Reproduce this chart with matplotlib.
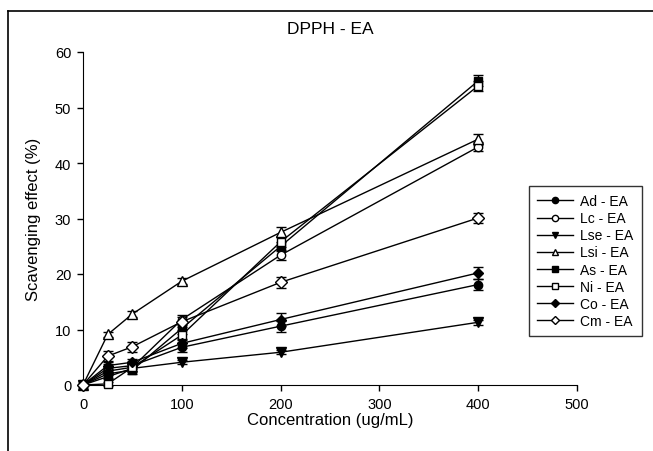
import matplotlib
matplotlib.use("Agg")
import matplotlib.pyplot as plt
from matplotlib.lines import Line2D

plt.rcParams['font.family'] = ['Liberation Sans', 'DejaVu Sans']

conc = [0, 25, 50, 100, 200, 400]

ad = [0, 3.0, 3.5, 6.8, 10.6, 18.1]
lc = [0, 2.5, 3.2, 11.8, 23.4, 42.9]
lse = [0, 1.5, 3.0, 4.1, 5.9, 11.3]
lsi = [0, 9.1, 12.8, 18.7, 27.5, 44.3]
as_ = [0, 2.0, 2.7, 10.2, 25.0, 54.8]
ni = [0, 0.2, 3.2, 9.0, 25.8, 53.9]
co = [0, 3.5, 4.1, 7.5, 11.8, 20.2]
cm = [0, 5.2, 6.9, 11.4, 18.5, 30.1]

ad_err = [0, 0.8, 0.6, 0.8, 1.0, 1.0]
lc_err = [0, 0.7, 0.6, 0.9, 0.9, 0.8]
lse_err = [0, 0.5, 0.4, 0.4, 0.4, 0.5]
lsi_err = [0, 0.5, 0.6, 0.5, 0.9, 1.0]
as_err = [0, 0.8, 0.8, 1.0, 0.8, 1.0]
ni_err = [0, 0.3, 0.8, 0.9, 0.9, 0.9]
co_err = [0, 0.8, 0.6, 0.8, 1.1, 1.1]
cm_err = [0, 1.0, 0.9, 0.9, 1.0, 0.9]

labels = ['Ad - EA', 'Lc - EA', 'Lse - EA', 'Lsi - EA',
          'As - EA', 'Ni - EA', 'Co - EA', 'Cm - EA']
series = [ad, lc, lse, lsi, as_, ni, co, cm]
errors = [ad_err, lc_err, lse_err, lsi_err, as_err, ni_err, co_err, cm_err]
markers = ['o', 'o', 'v', '^', 's', 's', 'D', 'D']
fills = ['black', 'white', 'black', 'white', 'black', 'white', 'black', 'white']
sizes = [6, 6, 6.5, 6.5, 5.5, 5.5, 5, 6]

fig = plt.figure(figsize=(6.53, 4.52), dpi=100)
ax = fig.add_axes([83 / 653, 1 - 386 / 452, 494 / 653, 333 / 452])

for y, e, m, fc, ms, lab in zip(series, errors, markers, fills, sizes, labels):
    ax.errorbar(conc, y, yerr=e, color='black', lw=1.0, marker=m,
                mfc=fc, mec='black', mew=1.0, ms=ms, capsize=3.5,
                elinewidth=1.0, capthick=1.0, label=lab, clip_on=False, zorder=3)

ax.set_xlim(0, 500)
ax.set_ylim(0, 60)
ax.set_xticks([0, 100, 200, 300, 400, 500])
ax.set_yticks([0, 10, 20, 30, 40, 50, 60])
ax.spines['top'].set_visible(False)
ax.spines['right'].set_visible(False)
ax.tick_params(direction='out', length=4.5, width=1, labelsize=10.5, pad=4)
ax.set_xlabel('Concentration (ug/mL)', fontsize=12, labelpad=1)
ax.set_ylabel('Scavenging effect (%)', fontsize=12, labelpad=10)
ax.set_title('DPPH - EA', fontsize=12.5, pad=14)

handles = [Line2D([0], [0], color='black', lw=1.0, marker=m, mfc=fc,
                  mec='black', ms=ms * 0.75) for m, fc, ms in zip(markers, fills, sizes)]
leg = fig.legend(handles, labels, loc='upper left',
                 bbox_to_anchor=(529 / 653, 1 - 187 / 452),
                 fontsize=10, frameon=True, fancybox=False, borderaxespad=0,
                 edgecolor='black', handlelength=2.6, labelspacing=0.22,
                 borderpad=0.6, handletextpad=0.5)
leg.get_frame().set_linewidth(1.0)

# page frame
fig.add_artist(Line2D([8 / 653, 1.0], [1 - 12 / 452, 1 - 12 / 452],
                      transform=fig.transFigure, color='black', lw=1.2))
fig.add_artist(Line2D([8 / 653, 8 / 653], [0, 1 - 12 / 452],
                      transform=fig.transFigure, color='black', lw=1.2))

fig.savefig('out.png', dpi=100)
